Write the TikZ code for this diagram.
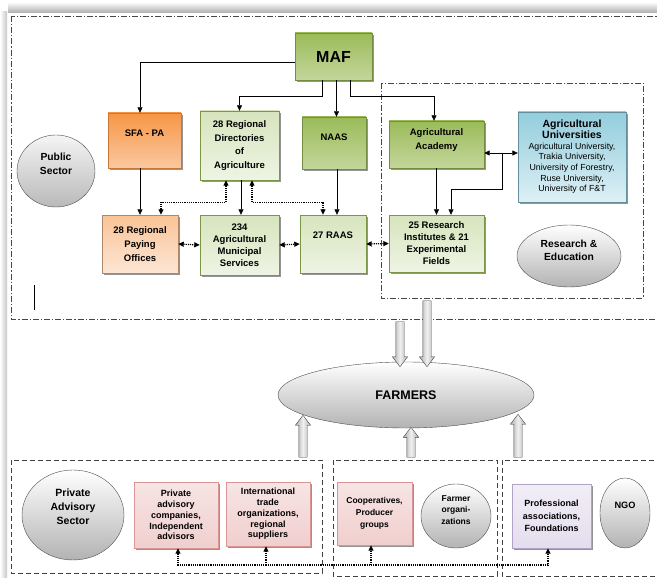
\documentclass[tikz,border=0pt]{standalone}
\usepackage{fontspec}
\setmainfont{Liberation Sans}
\usetikzlibrary{arrows.meta,calc,shapes.geometric,shapes.arrows,shadows}

\definecolor{leafdark}{HTML}{9BBB59}
\definecolor{leafmid}{HTML}{C3D69B}
\definecolor{leaflight}{HTML}{D7E4BD}
\definecolor{leafpale}{HTML}{EEF4E4}
\definecolor{rustdark}{HTML}{F79646}
\definecolor{rustpale}{HTML}{FAC8A0}
\definecolor{peach}{HTML}{FAC396}
\definecolor{peachpale}{HTML}{FDE6D4}
\definecolor{skydark}{HTML}{93CDDD}
\definecolor{skypale}{HTML}{DDF0F5}
\definecolor{rosefill}{HTML}{F0CFCE}
\definecolor{roseline}{HTML}{D99694}
\definecolor{lilacfill}{HTML}{E4DDEE}
\definecolor{lilacline}{HTML}{B3A2C7}

\newcommand\unihead{\bfseries\fontsize{10.5}{13}\selectfont}

\begin{document}
\begin{tikzpicture}[
  x=1pt, y=-1pt,
  >={Triangle[length=5.5pt,width=5pt]},
  every node/.style={font=\bfseries\fontsize{9.5}{12}\selectfont, align=center},
  box/.style={rectangle, inner sep=2pt,
    drop shadow={shadow xshift=1.8pt, shadow yshift=-1.8pt, fill=black!60, opacity=.7}},
  leafbox/.style={box, draw=leafdark!75!black, top color=leafdark, bottom color=leafmid},
  sproutbox/.style={box, draw=leafdark!80!black, top color=leaflight, bottom color=leafpale},
  rustbox/.style={box, draw=rustdark!80!black, top color=rustdark, bottom color=rustpale},
  peachbox/.style={box, draw=peach!70!black, top color=peach, bottom color=peachpale},
  skybox/.style={box, draw=skydark!70!black, top color=skydark, bottom color=skypale},
  rosebox/.style={box, draw=roseline, top color=rosefill!55, bottom color=rosefill,
    font=\bfseries\fontsize{9}{10.8}\selectfont},
  lilacbox/.style={box, draw=lilacline, top color=lilacfill!50, bottom color=lilacfill,
    font=\bfseries\fontsize{9}{12.5}\selectfont},
  ball/.style={ellipse, inner sep=0pt, draw=gray!60!black, top color=white, bottom color=gray!60,
    font=\bfseries\fontsize{10.3}{13.5}\selectfont},
  link/.style={->, semithick},
  twin/.style={<->, semithick},
  dotlink/.style={line width=1.2pt, densely dotted},
  zone/.style={gray!55!black, dash pattern=on 6pt off 2pt on 1.2pt off 2pt},
  lot/.style={black!75, dash pattern=on 5pt off 3pt},
  fat/.style={single arrow, shape border rotate=#1, inner sep=4pt, draw=gray!55!black,
    left color=gray!65, right color=gray!65, middle color=gray!12,
    single arrow head extend=3.5pt, single arrow tip angle=75}
]
\useasboundingbox (0,0) rectangle (657,578);

% ------------------------------------------------------------------
% Page shadow
% ------------------------------------------------------------------
\shade[top color=white, bottom color=gray!65] (8,2) rectangle (657,13);
\shade[left color=white, right color=gray!45] (0,12) rectangle (7,578);

% ------------------------------------------------------------------
% Public sector
% ------------------------------------------------------------------
\draw[zone] (11,16) rectangle (662,319);
\draw[zone] (381,83) rectangle (643,298);
\draw (34,285) -- (34,310);

\node[leafbox, minimum width=77pt, minimum height=47pt, font=\bfseries\fontsize{16}{18}\selectfont]
  (maf) at (333.5,56.5) {MAF};

\node[rustbox, minimum width=73pt, minimum height=55pt, text depth=15pt] (sfa) at (144.5,140.5) {SFA - PA};
\node[sproutbox, minimum width=79pt, minimum height=69pt, font=\bfseries\fontsize{9.5}{13.5}\selectfont]
  (dir) at (239.5,145.5) {28 Regional\\Directories\\of\\Agriculture};
\node[leafbox, minimum width=64pt, minimum height=52pt, text depth=12pt] (naas) at (334,143) {NAAS};
\node[leafbox, minimum width=95pt, minimum height=47pt, text depth=10pt,
  font=\bfseries\fontsize{9.5}{14}\selectfont] (acad) at (436.5,144.5) {Agricultural\\Academy};
\node[skybox, minimum width=108pt, minimum height=90pt, font=\mdseries\fontsize{8.8}{10.7}\selectfont]
  (univ) at (572,157)
  {\unihead Agricultural\\\unihead Universities\\Agricultural University,\\Trakia University,\\
   University of Forestry,\\Ruse University,\\University of F\&T};

\node[peachbox, minimum width=76pt, minimum height=58pt, font=\bfseries\fontsize{9.5}{14}\selectfont]
  (pay) at (140,244) {28 Regional\\Paying\\Offices};
\node[sproutbox, minimum width=79pt, minimum height=60pt] (mun) at (239.5,245)
  {234\\Agricultural\\Municipal\\Services};
\node[sproutbox, minimum width=66pt, minimum height=58pt, text depth=18pt] (raas) at (333,244) {27 RAAS};
\node[sproutbox, minimum width=95pt, minimum height=57pt] (res) at (436.5,243.5)
  {25 Research\\Institutes \& 21\\Experimental\\Fields};

\node[ball, minimum width=104pt, minimum height=62pt, text depth=11pt] (rne) at (569,256)
  {Research \&\\Education};
\node[ball, minimum width=78pt, minimum height=72pt, text depth=14pt, top color=gray!8, bottom color=gray!55]
  (pub) at (56,171) {Public\\Sector};

% links from MAF
\draw[link] ([yshift=-6pt]maf.west) -| ([xshift=-4.5pt]sfa.north);
\draw[link] ([xshift=-11.5pt]maf.south) -- ++(0,16) -| (dir.north);
\draw[link] ([xshift=3pt]maf.south) -- ([xshift=3pt]maf.south |- naas.north);
\draw[link] ([xshift=16.5pt]maf.south) -- ++(0,16) -| ([xshift=-2.5pt]acad.north);

\draw[link] ([xshift=-4.5pt]sfa.south) -- (pay.north);
\draw[link] ([xshift=1.5pt]dir.south) -- ([xshift=1.5pt]mun.north);
\draw[link] ([xshift=3pt]naas.south) -- ([xshift=3pt]naas.south |- raas.north);
\draw[link] (acad.south) -- (res.north);

\coordinate (uj) at (502,153);
\draw[twin] (acad.east |- uj) -- (univ.west |- uj);
\draw[link] (uj) -- ++(0,36) -| ([xshift=14.5pt]res.north);

% dotted cooperation
\draw[dotlink, <->] ([xshift=-13.5pt]dir.south) -- ++(0,22) -| ([xshift=21pt]pay.north);
\draw[dotlink, <->] ([xshift=12.5pt]dir.south) -- ++(0,22) -| ([xshift=-10pt]raas.north);
\draw[dotlink, <->] (pay.east) -- (mun.west);
\draw[dotlink, <->] (mun.east) -- (raas.west);
\draw[dotlink, <->] (raas.east) -- (res.west);

% ------------------------------------------------------------------
% Farmers
% ------------------------------------------------------------------
\node[ball, minimum width=256pt, minimum height=66pt, font=\bfseries\fontsize{12.5}{14}\selectfont]
  (farm) at (406,395) {FARMERS};

\node[fat=270, minimum height=45pt] (down1) at (400,341.5) {};
\node[fat=270, minimum height=66pt] (down2) at (427,331) {};

% ------------------------------------------------------------------
% Private sector, cooperatives, NGO
% ------------------------------------------------------------------
\draw[lot] (11,460) rectangle (322,573);
\draw[lot] (333,460) rectangle (497,576);
\draw[lot] (502,460) rectangle (662,576);

\node[fat=90, minimum height=42pt] (up1) at (303,439) {};
\node[fat=90, minimum height=30pt] (up2) at (411,445) {};
\node[fat=90, minimum height=43pt] (up3) at (518,438.5) {};

\node[ball, minimum width=102pt, minimum height=90pt, text depth=16pt,
  font=\bfseries\fontsize{10.5}{14}\selectfont] (pas) at (73,515) {Private\\Advisory\\Sector};
\node[rosebox, minimum width=84pt, minimum height=66pt] (pac) at (176,515)
  {Private\\advisory\\companies,\\Independent\\advisors};
\node[rosebox, minimum width=84pt, minimum height=64pt] (ito) at (268,514)
  {International\\trade\\organizations,\\regional\\suppliers};
\node[rosebox, minimum width=75pt, minimum height=63pt, font=\bfseries\fontsize{8.5}{12}\selectfont]
  (coop) at (374.5,513.5) {Cooperatives,\\Producer\\groups};
\node[ball, minimum width=70pt, minimum height=64pt, text depth=12pt,
  font=\bfseries\fontsize{8.5}{11.5}\selectfont] (fo) at (456,516) {Farmer\\organi-\\zations};
\node[lilacbox, minimum width=79pt, minimum height=64pt] (prof) at (551.5,516)
  {Professional\\associations,\\Foundations};
\node[ball, minimum width=50pt, minimum height=70pt, text depth=16pt,
  font=\bfseries\fontsize{9.2}{11}\selectfont] (ngo) at (625,513) {NGO};

\coordinate (bus) at (0,565);
\draw[dotlink, <->] ([xshift=2pt]pac.south) -- ([xshift=2pt]pac.south |- bus) -| ([xshift=-3.5pt]prof.south);
\draw[dotlink, ->] ([xshift=-2pt]ito.south |- bus) -- ([xshift=-2pt]ito.south);
\draw[dotlink, ->] ([xshift=-3.5pt]coop.south |- bus) -- ([xshift=-3.5pt]coop.south);

\end{tikzpicture}
\end{document}
